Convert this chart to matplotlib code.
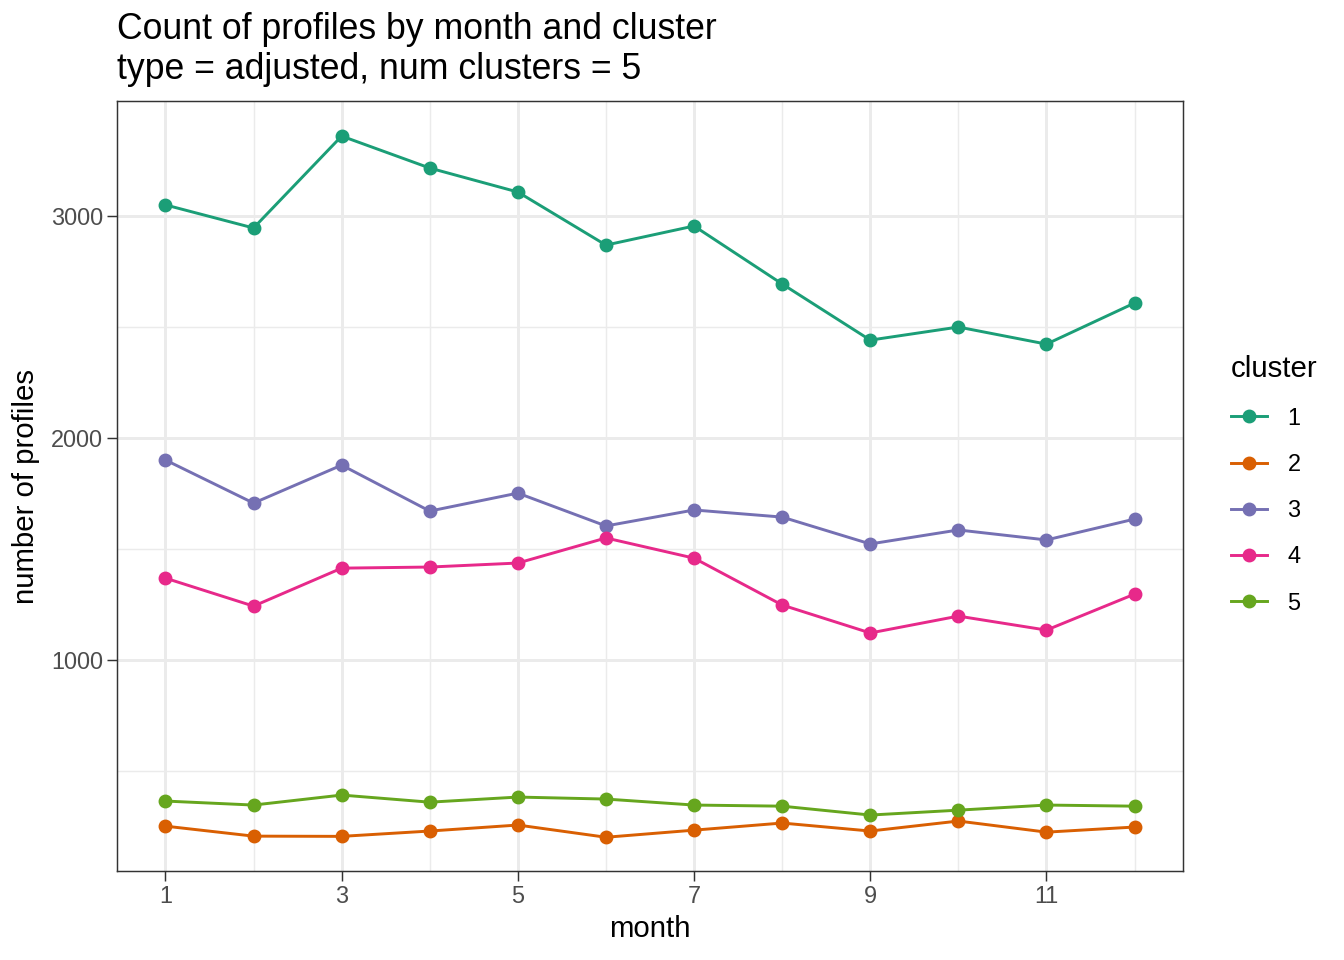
import numpy as np
import matplotlib.pyplot as plt

plt.rcParams['font.family'] = ['Liberation Sans', 'DejaVu Sans']

months = np.arange(1, 13)
clusters = ['1', '2', '3', '4', '5']
counts = {
    '1': [3050, 2946, 3360, 3216, 3108, 2869, 2955, 2694, 2441, 2500, 2423, 2608],
    '2': [252, 207, 206, 230, 257, 202, 234, 266, 230, 275, 225, 248],
    '3': [1901, 1707, 1878, 1671, 1752, 1604, 1676, 1644, 1523, 1586, 1541, 1635],
    '4': [1369, 1243, 1414, 1419, 1437, 1550, 1459, 1248, 1122, 1198, 1135, 1297],
    '5': [365, 347, 392, 360, 383, 374, 347, 342, 302, 324, 347, 342],
}
colors = ['#1B9E77', '#D95F02', '#7570B3', '#E7298A', '#66A61E']

W, H = 1344, 960
fig = plt.figure(figsize=(7, 5), dpi=192)
ax = fig.add_axes([117 / W, 1 - 871 / H, (1183 - 117) / W, (871 - 101) / H])

for c, col in zip(clusters, colors):
    ax.plot(months, counts[c], color=col, lw=1.1, marker='o', ms=4.2,
            label=c, zorder=3)

ax.set_ylim(50, 3518)
ax.set_xlim(1 - 0.55, 12 + 0.55)

ax.set_xticks([1, 3, 5, 7, 9, 11])
ax.set_xticks([2, 4, 6, 8, 10, 12], minor=True)
ax.set_yticks([1000, 2000, 3000])
ax.set_yticks([500, 1500, 2500], minor=True)

ax.grid(which='major', color='#EBEBEB', lw=1.1, zorder=0)
ax.grid(which='minor', color='#EBEBEB', lw=0.55, zorder=0)
ax.set_axisbelow(True)
ax.tick_params(which='major', length=3.6, width=0.55, color='#333333',
               labelsize=8.8, labelcolor='#4D4D4D', pad=1.6)
ax.tick_params(which='minor', length=0)
for s in ax.spines.values():
    s.set_color('#333333')
    s.set_linewidth(0.55)

ax.set_xlabel('month', fontsize=11, labelpad=2.5)
ax.set_ylabel('number of profiles', fontsize=11, labelpad=4)

fig.text(117 / W, 1 - 12 / H, 'Count of profiles by month and cluster\n'
         'type = adjusted, num clusters = 5', fontsize=13.35, va='top',
         ha='left', linespacing=1.17)

leg = ax.legend(title='cluster', loc='center left', frameon=False,
                bbox_to_anchor=(1210 / W, 1 - 485 / H),
                bbox_transform=fig.transFigure, fontsize=8.8,
                title_fontsize=11, handlelength=1.55, labelspacing=0.99,
                handletextpad=0.85)
leg._legend_box.align = 'left'

fig.savefig('out.png', dpi=192)
